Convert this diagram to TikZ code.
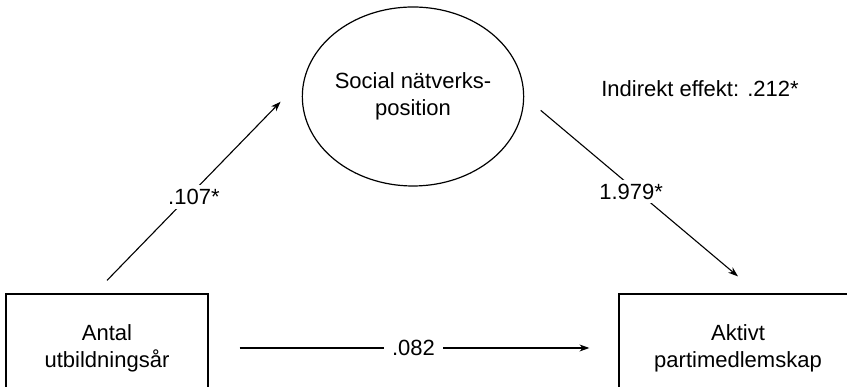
\documentclass[tikz,border=0pt]{standalone}
\usepackage{fontspec}
\setmainfont{Liberation Sans}
\usetikzlibrary{shapes.geometric,arrows.meta}

\tikzset{
  varbox/.style={draw, line width=1.2pt, minimum width=#1, minimum height=108pt,
    align=center, inner sep=0pt},
  latent/.style={draw, ellipse, line width=1.2pt, minimum width=217pt,
    minimum height=179pt, align=center, inner sep=0pt},
  coef/.style={fill=white, inner xsep=8pt, inner ysep=4pt}
}

\begin{document}
\begin{tikzpicture}[x=1pt, y=1pt, >={Stealth[length=10pt,width=7pt]},
    line width=1.1pt, font=\fontsize{22}{27}\selectfont]
  \useasboundingbox (0,0) rectangle (847,387);
  \clip (0,0) rectangle (847,387);

  % Variables
  \node[varbox=202pt] (antal) at (107,39) {Antal\\utbildningsår};
  \node[varbox=238pt] (aktivt) at (738,39) {Aktivt\\partimedlemskap};
  \node[latent] (natverk) at (413,290.5) {Social nätverks-\\position};

  % Paths with coefficients
  \draw[->, shorten >=34pt] ([yshift=13pt]antal.north)
    -- node[coef, pos=0.41, xshift=6pt] {.107*} (natverk.170);
  \draw[->, shorten <=21.5pt] (natverk.east)
    -- node[coef, yshift=-5pt] {1.979*} ([yshift=17pt]aktivt.north);
  \draw[->, shorten <=31pt, shorten >=29pt] (antal.east)
    -- node[coef] {.082} (aktivt.west);

  \node (indirekt) at (700,298) {Indirekt effekt: .212*};
\end{tikzpicture}
\end{document}
